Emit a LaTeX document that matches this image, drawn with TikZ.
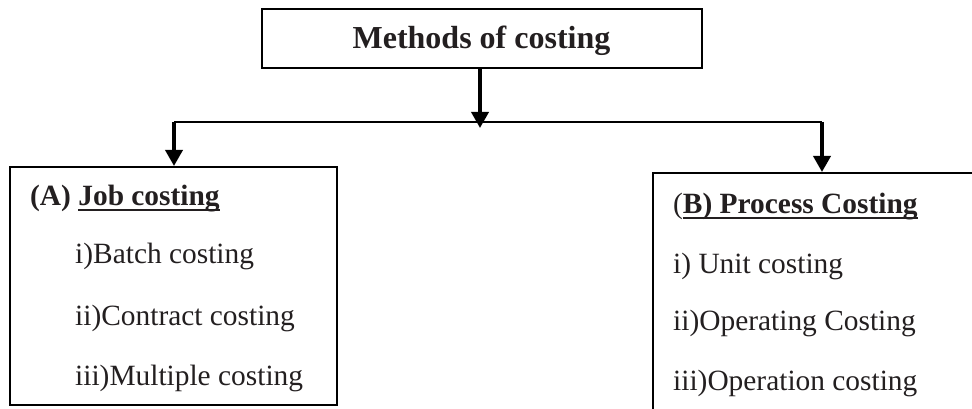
\documentclass[tikz,border=0pt]{standalone}
\usepackage{fontspec}
\setmainfont{Liberation Serif}
\usetikzlibrary{arrows.meta}
\definecolor{ink}{HTML}{231F20}
% underline drawn as a rule through the descenders, word-processor style
\newcommand\wordul[2][6pt]{\setbox0\hbox{#2}\rlap{\rule[-#1]{\wd0}{1.9pt}}\box0}
\begin{document}
\begin{tikzpicture}[x=1pt,y=-1pt,
  box/.style={draw=black,line width=2pt,inner sep=0pt},
  conn/.style={draw=black,line width=3.6pt},
  bus/.style={draw=black,line width=2.4pt},
  tip/.style={-{Triangle[length=16pt,width=17pt]}},
  title/.style={anchor=base,inner sep=0pt,text=ink,font=\fontsize{32pt}{38pt}\selectfont\bfseries},
  item/.style={anchor=base west,inner sep=0pt,text=ink,font=\fontsize{29.4pt}{35pt}\selectfont}]
\useasboundingbox (0,0) rectangle (972,409);
\clip (0,0) rectangle (972,409);
\fill[white] (0,0) rectangle (972,409);

% boxes
\node[box,minimum width=440pt,minimum height=59pt] (top) at (482,38.5) {};
\node[box,minimum width=327pt,minimum height=238pt] (jobbox) at (173.5,286) {};
\node[box,minimum width=360pt,minimum height=260pt] (procbox) at (833,303) {};

% heading
\node[title] (ttl) at (481.5,49) {Methods of costing};

% job costing
\node[item] (jobh) at (30,205) {\bfseries (A) \wordul[5.5pt]{Job costing}};
\node[item] (j1) at (75,263) {i)Batch costing};
\node[item] (j2) at (75,325) {ii)Contract costing};
\node[item] (j3) at (75,385) {iii)Multiple costing};

% process costing
\node[item] (proch) at (673,213) {(\bfseries\wordul[5.5pt]{B) Process Costing}};
\node[item] (p1) at (673,273) {i) Unit costing};
\node[item] (p2) at (673,330) {ii)Operating Costing};
\node[item] (p3) at (673,390) {iii)Operation costing};

% connectors
\coordinate (hub) at (480,128);
\coordinate (busL) at (174,122);
\coordinate (busR) at (822,122);
\draw[bus] (busL) -- (busR);
\draw[conn,tip] (top.south -| hub) -- (hub);
\draw[conn,tip] (busL) -- (busL |- jobbox.north);
\draw[conn,tip] (busR) -- (busR |- procbox.north);
\end{tikzpicture}
\end{document}
